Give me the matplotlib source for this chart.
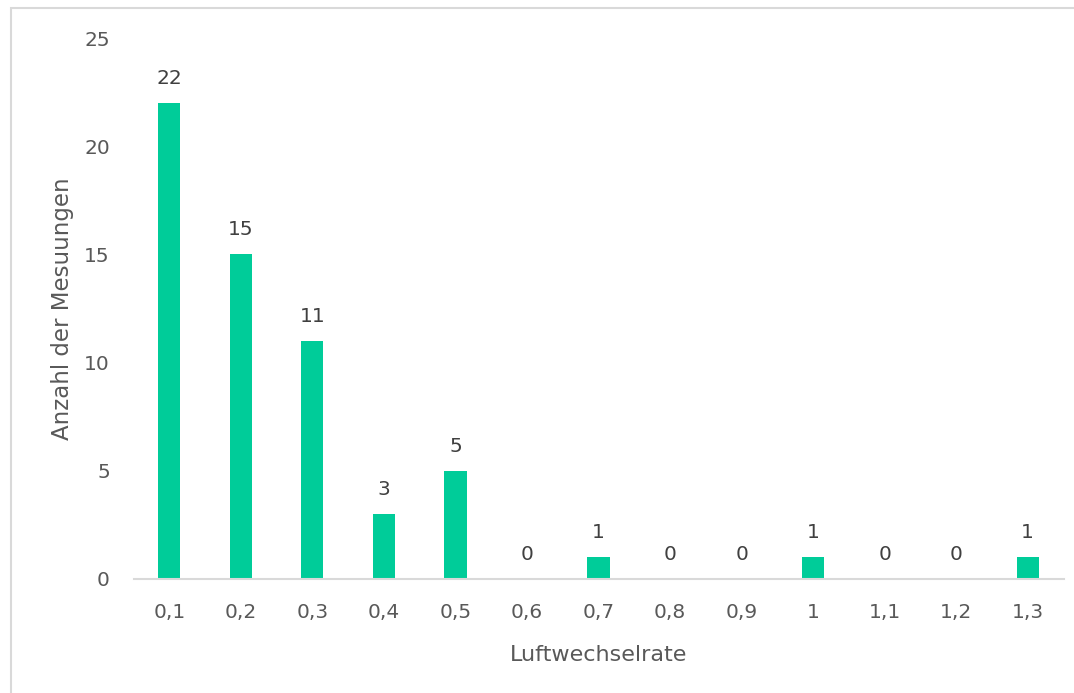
import matplotlib
matplotlib.use("Agg")
import matplotlib.pyplot as plt
from matplotlib.patches import Rectangle

categories = ["0,1", "0,2", "0,3", "0,4", "0,5", "0,6", "0,7", "0,8", "0,9", "1", "1,1", "1,2", "1,3"]
counts = [22, 15, 11, 3, 5, 0, 1, 0, 0, 1, 0, 0, 1]
y_ticks = [0, 5, 10, 15, 20, 25]

W, H = 1074, 693
fig = plt.figure(figsize=(W / 100, H / 100), dpi=100)
fig.patch.set_facecolor("white")

# light frame around the chart area
fig.patches.append(Rectangle((11 / W, -0.05), 1.2, 1 - 8 / H + 0.05,
                             transform=fig.transFigure, fill=False,
                             edgecolor="#d9d9d9", linewidth=1.5))

ax = fig.add_axes([133.5 / W, 1 - 579 / H, 930 / W, (579 - 38) / H])
text_color = "#595959"
font = "DejaVu Sans"
fs = 14.5

x = list(range(len(categories)))
bars = ax.bar(x, counts, width=0.31, color="#00CC99", zorder=2)

for xi, v in zip(x, counts):
    ax.annotate(str(v), (xi, v), xytext=(0, 11), textcoords="offset points",
                ha="center", va="bottom", fontsize=fs, color="#404040", family=font)

ax.set_xlim(-0.5, len(categories) - 0.5)
ax.set_ylim(0, 25)
ax.set_yticks(y_ticks)
ax.set_xticks(x)
ax.set_xticklabels(categories)

for s in ["top", "right", "left"]:
    ax.spines[s].set_visible(False)
ax.spines["bottom"].set_color("#d9d9d9")
ax.spines["bottom"].set_linewidth(1.5)

ax.tick_params(axis="both", length=0, labelsize=fs, colors=text_color)
ax.tick_params(axis="y", pad=17)
ax.tick_params(axis="x", pad=17)
for lab in ax.get_xticklabels() + ax.get_yticklabels():
    lab.set_family(font)

ax.set_xlabel("Luftwechselrate", fontsize=16, color=text_color, family=font, labelpad=17)
ax.set_ylabel("Anzahl der Mesuungen", fontsize=16.5, color=text_color, family=font, labelpad=7)

fig.savefig("out.png", dpi=100, facecolor="white")
